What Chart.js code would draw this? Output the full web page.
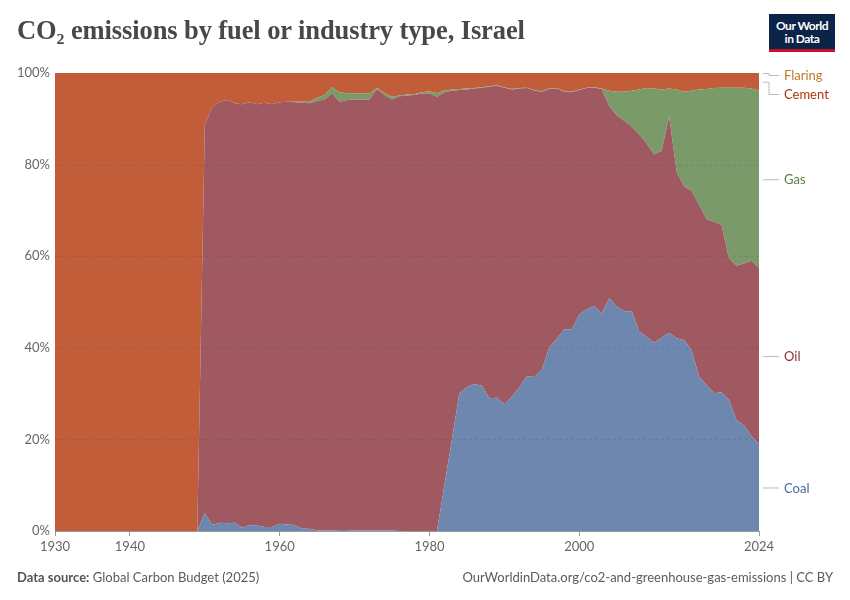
<!DOCTYPE html>
<html><head><meta charset="utf-8">
<script src="https://cdn.jsdelivr.net/npm/chart.js@4"></script>
<style>
body{margin:0;background:#fff;}
#wrap{position:relative;width:850px;height:600px;overflow:hidden;}
#c{position:absolute;left:0;top:0;}
#title{position:absolute;left:17px;top:15px;font-family:"Liberation Serif",serif;font-size:26.5px;font-weight:700;color:#484848;white-space:nowrap;letter-spacing:-0.1px;}
#logo{position:absolute;left:769px;top:14px;width:66px;height:38px;background:#0b2447;color:#fff;font-family:Lato,sans-serif;font-size:12px;font-weight:700;line-height:13px;text-align:center;box-sizing:border-box;padding-top:5px;border-bottom:3px solid #c8102e;letter-spacing:-0.5px;}
#src{position:absolute;left:17px;top:569px;font-family:Lato,sans-serif;font-size:13px;color:#5b5b5b;white-space:nowrap;}
#src b{color:#555;font-weight:700;}
#url{position:absolute;right:17px;top:569px;font-family:Lato,sans-serif;font-size:13px;color:#5b5b5b;white-space:nowrap;}
</style></head>
<body>
<div id="wrap">
<canvas id="c" width="850" height="600"></canvas>
<div id="title">CO₂ emissions by fuel or industry type, Israel</div>
<div id="logo">Our World<br>in Data</div>
<div id="src"><b>Data source:</b> Global Carbon Budget (2025)</div>
<div id="url">OurWorldinData.org/co2-and-greenhouse-gas-emissions | CC BY</div>
</div>
<script>
const years = [];
for (let y = 1930; y <= 2024; y++) years.push(y);

const coal = [
0,0,0,0,0,0,0,0,0,0, 0,0,0,0,0,0,0,0,0,0,
3.9,1.3,1.8,1.7,1.8,0.7,1.3,1.2,0.9,0.9,
1.6,1.4,1.3,0.5,0.5,0.1,0.1,0.1,0.2,0.2,
0.1,0.1,0.1,0.1,0.1,0.1,0,0,0,0,
0,0,10,20,30.1,31.4,32.1,31.7,29.0,29.1,
27.7,29.3,31.4,33.8,33.6,35.2,40.1,41.9,44.0,44.0,
47.2,48.4,49.1,47.5,50.8,49.0,48.0,48.0,43.5,42.4,
41.1,42.2,43.3,42.1,41.7,39.5,33.7,31.9,30.1,30.3,
28.6,24.2,23.1,20.7,19.0];

const oil = [
0,0,0,0,0,0,0,0,0,0, 0,0,0,0,0,0,0,0,0,0,
84.7,91.3,91.9,92.4,91.6,92.5,92.3,92.0,92.6,92.3,
92.0,92.3,92.3,93.0,92.9,93.8,94.1,95.4,93.5,93.9,
94.1,94.1,94.1,96.4,95.1,94.1,94.9,95.1,95.2,95.5,
95.5,94.8,85.8,76.1,66.2,65.0,64.5,65.1,68.0,68.1,
69.1,67.1,65.2,62.9,62.6,60.7,56.4,54.7,51.9,51.8,
49.1,48.3,47.7,49.0,42.0,41.8,41.6,40.3,43.1,42.2,
41.1,40.8,47.2,36.4,33.5,34.8,37.5,36.2,37.4,36.5,
30.9,33.7,35.3,38.3,38.4];

const gas = [
0,0,0,0,0,0,0,0,0,0, 0,0,0,0,0,0,0,0,0,0,
0,0,0,0,0,0,0,0,0,0,
0,0,0.1,0.2,0.3,0.7,1.0,1.4,2.1,1.5,
1.4,1.4,1.4,0.2,0.4,0.6,0.2,0.2,0.2,0.3,
0.5,0.8,0.4,0.3,0.2,0.2,0.1,0.1,0.1,0.1,
0.1,0.1,0.1,0.1,0.1,0.1,0.1,0.1,0.1,0.1,
0.1,0.1,0.1,0.1,3.3,5.1,6.3,7.8,9.8,12.1,
14.4,13.4,6.1,17.9,20.7,21.8,25.2,28.4,29.2,30.0,
37.3,38.9,38.4,37.6,38.8];

const cement = [
100,100,100,100,100,100,100,100,100,100, 100,100,100,100,100,100,100,100,100,100,
11.4,7.4,6.3,5.9,6.6,6.8,6.4,6.8,6.5,6.8,
6.4,6.3,6.3,6.3,6.3,5.4,4.8,3.1,4.2,4.4,
4.4,4.4,4.4,3.3,4.4,5.2,4.9,4.7,4.6,4.2,
4.0,4.4,3.8,3.6,3.5,3.4,3.3,3.1,2.9,2.7,
3.1,3.5,3.3,3.2,3.7,4.0,3.4,3.3,4.0,4.1,
3.6,3.2,3.1,3.4,3.9,4.1,4.1,3.9,3.6,3.3,
3.4,3.6,3.4,3.6,4.1,3.9,3.6,3.5,3.3,3.2,
3.2,3.2,3.2,3.4,3.8];

const flaring = [
0,0,0,0,0,0,0,0,0,0, 0,0,0,0,0,0,0,0,0,0,
0,0,0,0,0,0,0,0,0,0,
0,0,0,0,0,0,0,0,0,0,
0,0,0,0,0,0,0,0,0,0,
0,0,0,0,0,0,0,0,0,0,
0,0,0,0,0,0,0,0,0,0,
0,0,0,0,0,0,0,0,0,0,
0,0,0,0,0,0,0,0,0,0,
0,0,0,0,0];

const xTicks = [1930, 1940, 1960, 1980, 2000, 2024];
const yTicks = [0, 20, 40, 60, 80, 100];

const seriesNames = ['Coal', 'Oil', 'Gas', 'Cement', 'Flaring'];
const seriesData = [coal, oil, gas, cement, flaring];
const fillColors = ['#6e87ae', '#a05961', '#7a9a6a', '#c15e39', '#d08a3c'];
const labelColors = ['#4c6a9c', '#883039', '#578145', '#b13507', '#c27a2c'];

const datasets = seriesData.map((arr, k) => ({
  label: seriesNames[k],
  data: years.map((y, i) => ({x: y, y: arr[i]})),
  backgroundColor: fillColors[k],
  borderColor: fillColors[k],
  borderWidth: 0,
  pointRadius: 0,
  tension: 0,
  fill: k === 0 ? 'origin' : '-1'
}));

const overlay = {
  id: 'overlay',
  afterDatasetsDraw(chart) {
    const ctx = chart.ctx, a = chart.chartArea, ys = chart.scales.y;
    ctx.save();
    ctx.strokeStyle = 'rgba(0,0,0,0.09)';
    ctx.lineWidth = 1;
    ctx.setLineDash([3, 3]);
    [20, 40, 60, 80].forEach(v => {
      const py = Math.round(ys.getPixelForValue(v)) + 0.5;
      ctx.beginPath(); ctx.moveTo(a.left, py); ctx.lineTo(a.right, py); ctx.stroke();
    });
    ctx.restore();

    const last = years.length - 1;
    let cum = 0;
    const labs = seriesNames.map((n, k) => {
      const v = seriesData[k][last];
      const mid = cum + v / 2;
      cum += v;
      return {name: n, color: labelColors[k], anchor: ys.getPixelForValue(mid), y: ys.getPixelForValue(mid)};
    });
    const sorted = labs.slice().sort((p, q) => p.y - q.y);
    let prev = a.top + 2 - 19;
    sorted.forEach(l => { if (l.y < prev + 19) l.y = prev + 19; prev = l.y; });
    ctx.save();
    ctx.font = '13px Lato, sans-serif';
    ctx.textBaseline = 'middle';
    ctx.strokeStyle = '#bbbbbb';
    ctx.lineWidth = 1;
    sorted.forEach(l => {
      const x0 = a.right + 4, x1 = a.right + 10, x2 = a.right + 20;
      ctx.beginPath();
      if (Math.abs(l.y - l.anchor) > 1) {
        ctx.moveTo(x0, l.anchor + 0.5); ctx.lineTo(x1, l.anchor + 0.5);
        ctx.lineTo(x1, l.y + 0.5); ctx.lineTo(x2, l.y + 0.5);
      } else {
        ctx.moveTo(x0, l.y + 0.5); ctx.lineTo(x2, l.y + 0.5);
      }
      ctx.stroke();
      ctx.fillStyle = l.color;
      ctx.fillText(l.name, a.right + 25, l.y + 1);
    });
    ctx.restore();
  }
};

new Chart(document.getElementById('c'), {
  type: 'line',
  data: {datasets},
  options: {
    responsive: false,
    animation: false,
    events: [],
    layout: {padding: {left: 0, right: 91, top: 73, bottom: 0}},
    plugins: {legend: {display: false}, tooltip: {enabled: false}},
    elements: {line: {borderWidth: 0}},
    scales: {
      x: {
        type: 'linear', min: 1930, max: 2024,
        afterBuildTicks: s => { s.ticks = xTicks.map(v => ({value: v})); },
        afterFit: s => { s.height = 69; },
        ticks: {autoSkip: false, maxRotation: 0, color: '#666', font: {family: 'Lato', size: 13}, padding: 3, callback: v => String(v)},
        grid: {display: true, drawOnChartArea: false, drawTicks: true, tickLength: 5, color: '#999'},
        border: {display: true, color: '#999'}
      },
      y: {
        stacked: true, min: 0, max: 100,
        afterBuildTicks: s => { s.ticks = yTicks.map(v => ({value: v})); },
        afterFit: s => { s.width = 55; },
        ticks: {color: '#666', font: {family: 'Lato', size: 13}, padding: 5, callback: v => v + '%'},
        grid: {display: false, drawTicks: false},
        border: {display: false}
      }
    }
  },
  plugins: [overlay]
});
</script>
</body></html>
